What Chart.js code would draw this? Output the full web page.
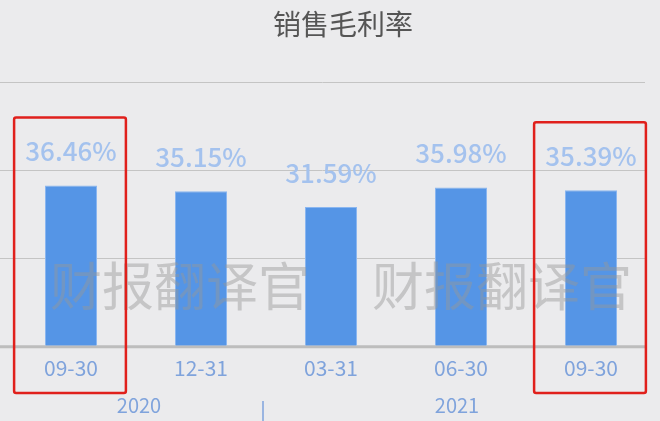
<!DOCTYPE html>
<html>
<head>
<meta charset="utf-8">
<script src="https://cdn.jsdelivr.net/npm/chart.js@4"></script>
<style>
  html, body { margin: 0; padding: 0; background: #ebebed; }
  #wrap { width: 660px; height: 421px; }
</style>
</head>
<body>
<div id="wrap"><canvas id="c"></canvas></div>
<script>
const title = "销售毛利率";
const quarters = ["09-30", "12-31", "03-31", "06-30", "09-30"];
const years = ["2020", "2021"];
const yearSpans = [[0, 1], [2, 4]]; // first and last category index of each year
const margin = [36.46, 35.15, 31.59, 35.98, 35.39];
const boxed = [0, 4];
const watermark = "财报翻译官";

const FONT = "'Noto Sans CJK SC', 'Noto Sans', sans-serif";

// everything not in the bars themselves is drawn here off the chart's scales
const extras = {
  id: "extras",
  beforeDatasetsDraw(chart) {
    const { ctx, scales: { x, y } } = chart;
    ctx.save();
    // grid lines
    ctx.strokeStyle = "#c4c4c4";
    ctx.lineWidth = 1;
    [20, 40, 60].forEach(v => {
      const py = Math.round(y.getPixelForValue(v)) + 0.5;
      ctx.beginPath();
      ctx.moveTo(0, py);
      ctx.lineTo(645, py);
      ctx.stroke();
    });
    // base line
    ctx.strokeStyle = "#bdbdbd";
    ctx.lineWidth = 3;
    const by = y.getPixelForValue(0) + 1;
    ctx.beginPath();
    ctx.moveTo(0, by);
    ctx.lineTo(645, by);
    ctx.stroke();
    ctx.restore();
  },
  afterDraw(chart) {
    const { ctx, scales: { x, y } } = chart;
    const step = x.getPixelForValue(1) - x.getPixelForValue(0);
    ctx.save();

    // title
    ctx.fillStyle = "#555555";
    ctx.font = "28px " + FONT;
    ctx.textAlign = "center";
    ctx.textBaseline = "middle";
    ctx.fillText(title, 343, 24);

    // value labels
    ctx.fillStyle = "#a4c2ee";
    ctx.font = "500 26px " + FONT;
    margin.forEach((v, i) => {
      ctx.fillText(v.toFixed(2) + "%", x.getPixelForValue(i), y.getPixelForValue(v) - 34);
    });

    // year labels + divider
    ctx.fillStyle = "#7fa3dc";
    ctx.font = "20px " + FONT;
    years.forEach((yr, k) => {
      const [a, b] = yearSpans[k];
      const cx = (x.getPixelForValue(a) + x.getPixelForValue(b)) / 2;
      ctx.fillText(yr, cx + (k === 0 ? 3 : -4), 405);
    });
    ctx.strokeStyle = "#7fa3dc";
    ctx.lineWidth = 1.5;
    const dx = (x.getPixelForValue(1) + x.getPixelForValue(2)) / 2 - 3;
    ctx.beginPath();
    ctx.moveTo(dx, 401);
    ctx.lineTo(dx, 421);
    ctx.stroke();

    // watermark
    ctx.fillStyle = "rgba(150,150,150,0.45)";
    ctx.font = "52px " + FONT;
    ctx.textAlign = "left";
    ctx.fillText(watermark, 50, 286);
    ctx.fillText(watermark, 372, 286);

    // red boxes
    ctx.strokeStyle = "#e0201c";
    ctx.lineWidth = 2.5;
    boxed.forEach(i => {
      const cx = x.getPixelForValue(i);
      const w = step * 0.86;
      const top = y.getPixelForValue(margin[i]) - 68;
      ctx.beginPath();
      ctx.roundRect(cx - w / 2 - 1, top, w, 393 - top, 2);
      ctx.stroke();
    });
    ctx.restore();
  }
};

new Chart(document.getElementById("c"), {
  type: "bar",
  data: {
    labels: quarters,
    datasets: [{
      data: margin,
      backgroundColor: "#5595e6",
      borderColor: "#8ab6f0",
      borderWidth: 1,
      barPercentage: 0.4,
      categoryPercentage: 1
    }]
  },
  options: {
    responsive: true,
    maintainAspectRatio: false,
    animation: false,
    layout: { padding: { left: 6, right: 4, top: 82, bottom: 30 } },
    plugins: { legend: { display: false }, tooltip: { enabled: false } },
    scales: {
      x: {
        grid: { display: false, drawTicks: false },
        border: { display: false },
        ticks: { color: "#7fa3dc", font: { family: FONT, size: 21 }, padding: 10 }
      },
      y: { display: false, min: 0, max: 60 }
    }
  },
  plugins: [extras]
});
</script>
</body>
</html>
